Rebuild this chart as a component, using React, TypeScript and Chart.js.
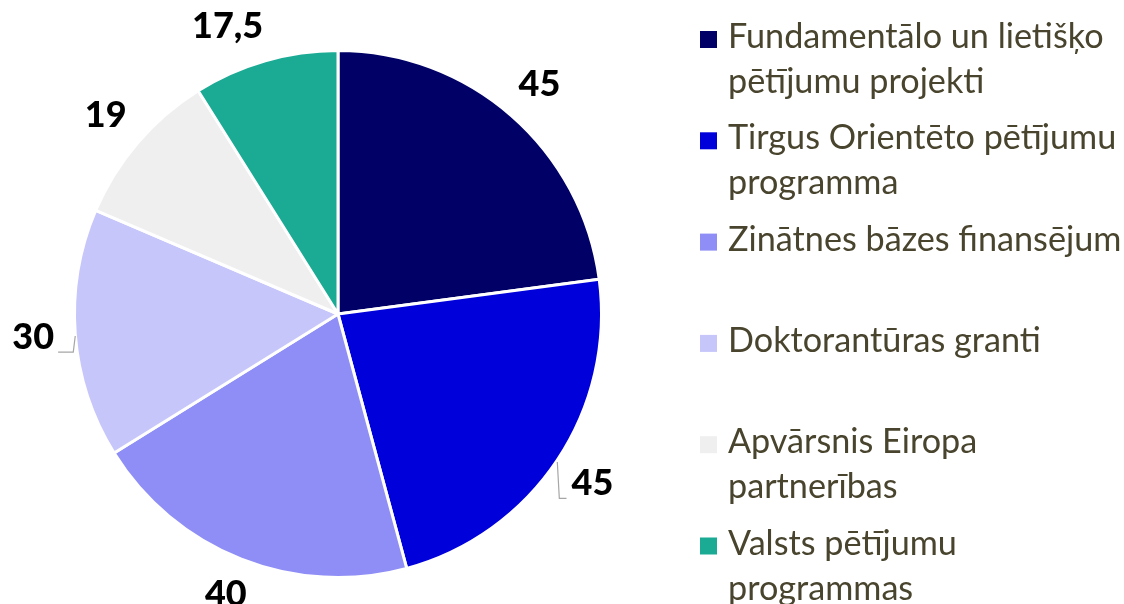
import React, { useEffect, useRef } from "react";
import { Chart, registerables } from "chart.js";

Chart.register(...registerables);

const categories = [
  "Fundamentālo un lietišķo pētījumu projekti",
  "Tirgus Orientēto pētījumu programma",
  "Zinātnes bāzes finansējum",
  "Doktorantūras granti",
  "Apvārsnis Eiropa partnerības",
  "Valsts pētījumu programmas",
];
const legendLines = [
  ["Fundamentālo un lietišķo", "pētījumu projekti"],
  ["Tirgus Orientēto pētījumu", "programma"],
  ["Zinātnes bāzes finansējum", ""],
  ["Doktorantūras granti", ""],
  ["Apvārsnis Eiropa", "partnerības"],
  ["Valsts pētījumu", "programmas"],
];
const values = [45, 45, 40, 30, 19, 17.5];
const valueLabels = ["45", "45", "40", "30", "19", "17,5"];
const colors = ["#000066", "#0000DA", "#8E8EF6", "#C6C6FB", "#EFEFEF", "#1BAB95"];
const leaderFor = [false, true, false, true, false, false];
const LABEL_NUDGE: [number, number][] = [[0, 0], [0, 0], [0, -4], [0, 0], [0, 0], [-26, 6]];

const LEGEND_FONT = "Lato";
const LEGEND_SIZE = 34.2;
const LABEL_SIZE = 36;

const labelPlugin = {
  id: "valueLabels",
  afterDatasetsDraw(chart: any) {
    const ctx = chart.ctx;
    const meta = chart.getDatasetMeta(0);
    ctx.save();
    ctx.font = `900 ${LABEL_SIZE}px ${LEGEND_FONT}`;
    ctx.textAlign = "center";
    ctx.textBaseline = "middle";
    meta.data.forEach((arc: any, i: number) => {
      const { x, y, startAngle, endAngle, outerRadius } = arc.getProps(
        ["x", "y", "startAngle", "endAngle", "outerRadius"],
        true
      );
      const mid = (startAngle + endAngle) / 2;
      const r = outerRadius * 1.16;
      const lx = x + Math.cos(mid) * r + LABEL_NUDGE[i][0];
      const ly = y + Math.sin(mid) * r + LABEL_NUDGE[i][1];
      ctx.fillStyle = "#000000";
      ctx.fillText(valueLabels[i], lx, ly);
      if (leaderFor[i]) {
        const w = ctx.measureText(valueLabels[i]).width;
        const px = x + Math.cos(mid) * outerRadius;
        const py = y + Math.sin(mid) * outerRadius;
        const by = ly + 15;
        const ex = px > lx ? lx + w / 2 + 4 : lx - w / 2 - 5;
        ctx.strokeStyle = "#A6A6A6";
        ctx.lineWidth = 1.2;
        ctx.beginPath();
        ctx.moveTo(px, py + 2);
        ctx.lineTo(px + (px > lx ? -2 : 2), by);
        ctx.lineTo(ex, by);
        ctx.stroke();
      }
    });
    ctx.restore();
  },
};

const legendPlugin = {
  id: "sideLegend",
  afterDraw(chart: any) {
    const ctx = chart.ctx;
    ctx.save();
    const left = 700;
    const top = 37;
    const pitch = 101.3;
    const lineH = 45;
    ctx.font = `${LEGEND_SIZE}px ${LEGEND_FONT}`;
    ctx.textAlign = "left";
    ctx.textBaseline = "middle";
    legendLines.forEach((lines, i) => {
      const cy = top + i * pitch;
      ctx.fillStyle = colors[i];
      ctx.fillRect(left, cy - 6, 17, 17);
      ctx.fillStyle = "#48442D";
      lines.forEach((t, j) => {
        if (t) ctx.fillText(t, left + 28, cy + j * lineH);
      });
    });
    ctx.restore();
  },
};

export default function App() {
  const ref = useRef<HTMLCanvasElement | null>(null);
  useEffect(() => {
    if (!ref.current) return;
    const chart = new Chart(ref.current, {
      type: "pie",
      data: {
        labels: categories,
        datasets: [
          {
            data: values,
            backgroundColor: colors,
            borderColor: "#FFFFFF",
            borderWidth: 3,
            hoverOffset: 0,
          },
        ],
      },
      options: {
        responsive: false,
        maintainAspectRatio: false,
        animation: false,
        layout: { padding: { left: 73, top: 49, right: 521, bottom: 25 } },
        plugins: {
          legend: { display: false },
          tooltip: { enabled: false },
        },
      },
      plugins: [labelPlugin, legendPlugin],
    });
    return () => chart.destroy();
  }, []);
  return (
    <div
      style={{
        position: "absolute",
        left: 0,
        top: 0,
        width: 1124,
        height: 604,
        background: "#FFFFFF",
      }}
    >
      <canvas ref={ref} width={1124} height={604} />
    </div>
  );
}
